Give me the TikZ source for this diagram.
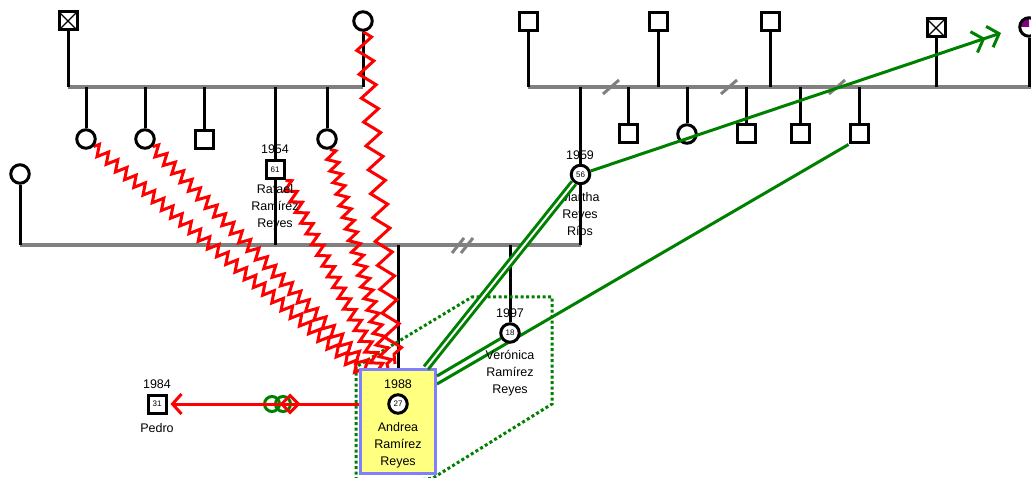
\documentclass[tikz,border=0pt]{standalone}
\usepackage{fontspec}
\setmainfont{Liberation Sans}
\usetikzlibrary{decorations.pathmorphing,arrows.meta,shapes.geometric,backgrounds}
\definecolor{lgray}{RGB}{128,128,128}
\definecolor{grn}{RGB}{0,128,0}
\definecolor{byel}{RGB}{255,255,128}
\definecolor{bblue}{RGB}{128,128,255}
\definecolor{purp}{RGB}{128,0,128}
\begin{document}
\begin{tikzpicture}[x=1pt,y=-1pt,
  gline/.style={draw=lgray,line width=3.2pt},
  kline/.style={draw=black,line width=3pt},
  male/.style={rectangle,draw,line width=3pt,fill=white,minimum size=18pt,inner sep=0pt,font=\fontsize{8}{8}\selectfont},
  female/.style={circle,draw,line width=3pt,fill=white,minimum size=18.5pt,inner sep=0pt,font=\fontsize{8}{8}\selectfont},
  dead/.style={male,path picture={\draw[line width=1.3pt] (path picture bounding box.south west)--(path picture bounding box.north east) (path picture bounding box.north west)--(path picture bounding box.south east);}},
  lbl/.style={font=\fontsize{12.5}{17}\selectfont,align=center,inner sep=0pt},
  hostile/.style={draw=red,line width=3pt,decorate,decoration={zigzag,segment length=12pt,amplitude=5.5pt}},
  hostilewide/.style={draw=red,line width=3pt,decorate,decoration={zigzag,segment length=24pt,amplitude=8pt}},
  glink/.style={draw=grn,line width=3pt},
  gdouble/.style={draw=grn,line width=3pt,double=white,double distance=2pt},
  household/.style={draw=grn,line width=3pt,dash pattern=on 3pt off 2.5pt},
  slash/.style={draw=lgray,line width=3pt}
]
\useasboundingbox (0,0) rectangle (1031,478);
\clip (0,0) rectangle (1031,478);

% ---- people, top left family
\node[dead] (gf1) at (68,21) {};
\node[female] (gm1) at (363,21) {};
\node[female] (c1) at (86,139) {};
\node[female] (c2) at (145,139) {};
\node[male] (c3) at (204,140) {};
\node[male] (rafael) at (275,170) {61};
\node[female] (c5) at (327,139) {};
\node[female] (w1) at (20,174) {};

% ---- top right family
\node[male] (g2) at (528,22) {};
\node[male] (g3) at (658,22) {};
\node[male] (g4) at (770,22) {};
\node[dead] (g5) at (936,28) {};
\fill[purp] (1029,27) -- (1019.5,27) arc[start angle=180,end angle=270,radius=9.5] -- cycle;
\node[female,fill=none] (g6) at (1029,27) {};
\node[female] (martha) at (580.5,174.5) {56};
\node[male] (s1) at (628,134) {};
\node[female] (f2) at (687,134) {};
\node[male] (s3) at (746,134) {};
\node[male] (s4) at (800,134) {};
\node[male] (s5) at (859,134) {};

% ---- generation 3
\node[female] (veronica) at (510,333) {18};
\node[male] (pedro) at (157,404) {31};
\node[draw=bblue,fill=byel,line width=3pt,minimum width=75pt,minimum height=104pt,inner sep=0pt] (abox) at (398,421.5) {};
\node[female] (andrea) at (398,404) {27};

% ---- labels
\node[lbl] (rafy) at (275,149) {1954};
\node[lbl] (rafn) at (275,207) {Rafael\\Ramírez\\Reyes};
\node[lbl] (marthay) at (580,155) {1959};
\node[lbl] (marthan) at (580,214) {Martha\\Reyes\\Ríos};
\node[lbl] (very) at (510,313) {1997};
\node[lbl] (vern) at (510,373) {Verónica\\Ramírez\\Reyes};
\node[lbl] (andy) at (398,384) {1988};
\node[lbl] (andn) at (398,445) {Andrea\\Ramírez\\Reyes};
\node[lbl] (pedy) at (157,384) {1984};
\node[lbl] (pedn) at (157,428) {Pedro};

\coordinate (j1a) at (68,87);
\coordinate (j1b) at (363,87);
\coordinate (j2a) at (20,245);
\coordinate (j2b) at (581,245);
\coordinate (j3a) at (528,87);
\coordinate (j3b) at (1040,87);
\coordinate (arrtip) at (1001,33);

\begin{scope}[on background layer]
  % marriage / sibship lines
  \draw[gline] (j1a) -- (j1b);
  \draw[gline] (j2a) -- (j2b);
  \draw[gline] (j3a) -- (j3b);
  % top left
  \draw[kline] (gf1.south) -- (j1a);
  \draw[kline] (gm1.south) -- (j1b);
  \foreach \n in {c1,c2,c3,c5} \draw[kline] (\n.north) -- (\n.north |- j1a);
  \draw[kline] (rafael |- j1a) -- (rafael |- j2a);
  \draw[kline] (w1.south) -- (w1.south |- j2a);
  % top right
  \foreach \n in {g2,g3,g4,g5,g6} \draw[kline] (\n.south) -- (\n.south |- j3a);
  \foreach \n in {s1,f2,s3,s4,s5} \draw[kline] (\n.north) -- (\n.north |- j3a);
  \draw[kline] (martha |- j3a) -- (martha |- j2b);
  % generation 3
  \draw[kline] (abox.north |- j2a) -- (abox.north);
  \draw[kline] (veronica.north |- j2a) -- (veronica.north);
  % divorce slashes
  \draw[slash] (603,94) -- (619,80);
  \draw[slash] (721,94) -- (737,80);
  \draw[slash] (829,94) -- (845,80);
  \draw[slash] (452,253) -- (464,238);
  \draw[slash] (461,253) -- (473,238);
  % household
  \draw[household] (356,480) -- (356,367) -- (472,297) -- (552,297) -- (552,404) -- (433,478) -- (420,480) -- cycle;
  % hostile relations
  \draw[hostile] (c1.south east) -- ([shift={(5pt,-5pt)}]abox.north west);
  \draw[hostile] (c2.south east) -- ([shift={(13pt,-4pt)}]abox.north west);
  \draw[hostile] (rafael.south east) -- ([shift={(21pt,-2pt)}]abox.north west);
  \draw[hostile] (c5.-75) -- ([shift={(29pt,0pt)}]abox.north west);
  \draw[hostilewide] (gm1.south) -- ([shift={(36pt,4pt)}]abox.north west);
  % close relation passing behind Veronica
  \draw[glink] ([yshift=-16pt]abox.north east) -- (s5.south west);
\end{scope}

% close / fused relations
\draw[gdouble] ([xshift=-11pt]abox.north east) -- (martha);
\draw[glink] ([yshift=-8pt]abox.north east) -- (veronica);
\draw[glink,-{Straight Barb[length=10pt,width=22pt,sep=3pt]Straight Barb[length=10pt,width=22pt]}] (martha.19) -- (arrtip);

% relation Andrea - Pedro
\node[circle,draw=grn,line width=3pt,minimum size=15pt,inner sep=0pt] (ring1) at (272,404) {};
\node[circle,draw=grn,line width=3pt,minimum size=15pt,inner sep=0pt] (ring2) at (283,404) {};
\draw[draw=red,line width=3pt,shorten >=3pt,-{Straight Barb[length=9pt,width=20pt]}] (abox.west |- andrea) -- (pedro.east);
\node[diamond,draw=red,line width=3pt,minimum size=18pt,inner sep=0pt] (dia) at (290,404) {};
\end{tikzpicture}
\end{document}
